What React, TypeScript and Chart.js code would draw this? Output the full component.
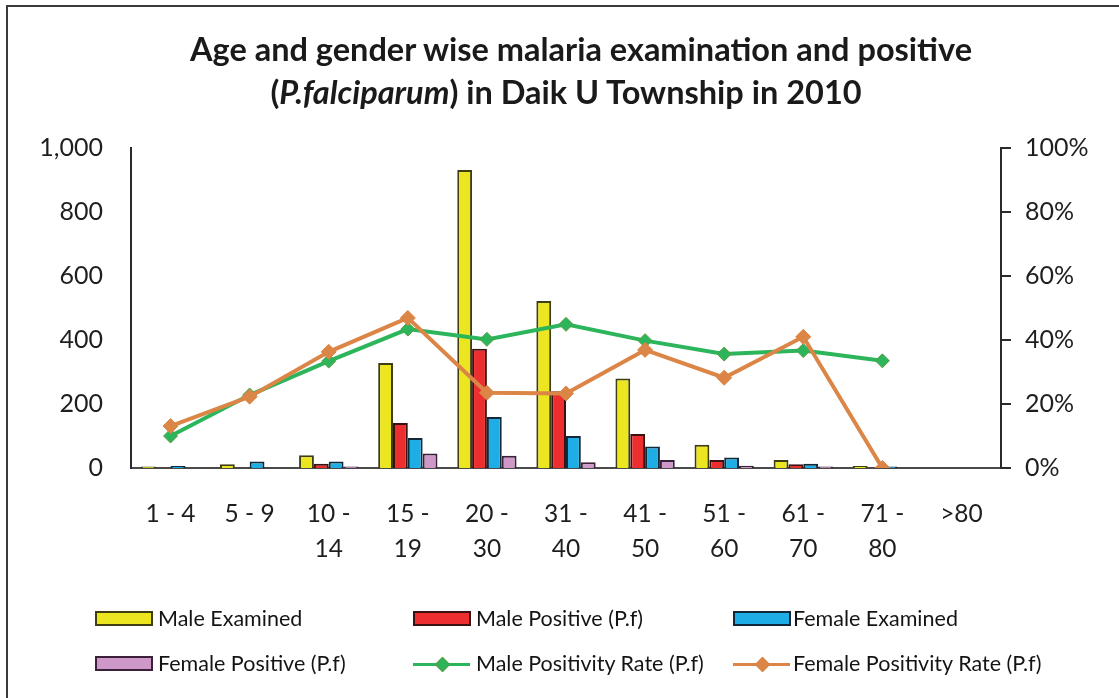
import React, { useEffect, useRef } from "react";
import { Chart, registerables } from "chart.js";

Chart.register(...registerables);

const categories: (string | string[])[] = [
  "1 - 4", "5 - 9", ["10 -", "14"], ["15 -", "19"], ["20 -", "30"], ["31 -", "40"],
  ["41 -", "50"], ["51 -", "60"], ["61 -", "70"], ["71 -", "80"], ">80",
];
const maleExamined = [5, 12, 40, 328, 931, 522, 280, 73, 25, 6, 0];
const malePositive = [1, 1, 13, 141, 373, 240, 106, 25, 12, 1, 0];
const femaleExamined = [6, 20, 20, 94, 159, 100, 67, 33, 13, 5, 0];
const femalePositive = [1, 0, 5, 45, 38, 18, 25, 7, 5, 0, 0];
const maleRate = [10, 22.8, 33.4, 43.4, 40.2, 44.9, 39.8, 35.6, 36.7, 33.5, null];
const femaleRate = [13.1, 22.3, 36.3, 46.9, 23.5, 23.3, 36.9, 28.2, 41, 0, null];
const leftTicks = [0, 200, 400, 600, 800, 1000];
const rightTicks = [0, 20, 40, 60, 80, 100];

const FONT = "Lato, 'Open Sans', sans-serif";
const YELLOW = "#ECE621";
const RED = "#EC2E2E";
const BLUE = "#1EAEE5";
const PINK = "#CE98C8";
const GREEN = "#2DB55C";
const ORANGE = "#DB8547";

export default function App() {
  const ref = useRef<HTMLCanvasElement | null>(null);
  useEffect(() => {
    if (!ref.current) return;
    const bar = (label: string, data: number[], bg: string, bc: string) => ({
      type: "bar" as const,
      label,
      data,
      backgroundColor: bg,
      borderColor: bc,
      borderWidth: 2,
      barPercentage: 1,
      categoryPercentage: 0.75,
      yAxisID: "y",
      order: 2,
    });
    const chart = new Chart(ref.current, {
      type: "bar",
      data: {
        labels: categories,
        datasets: [
          bar("Male Examined", maleExamined, YELLOW, "#3f3d12"),
          bar("Male Positive (P.f)", malePositive, RED, "#3a1212"),
          bar("Female Examined", femaleExamined, BLUE, "#10283a"),
          bar("Female Positive (P.f)", femalePositive, PINK, "#3a2038"),
          {
            type: "line" as const,
            label: "Male Positivity Rate (P.f)",
            data: maleRate,
            borderColor: GREEN,
            borderWidth: 4,
            pointStyle: "rectRot",
            pointRadius: 7,
            pointBackgroundColor: GREEN,
            pointBorderColor: "#5e9a44",
            pointBorderWidth: 1,
            tension: 0,
            yAxisID: "y1",
            order: 1,
          },
          {
            type: "line" as const,
            label: "Female Positivity Rate (P.f)",
            data: femaleRate,
            borderColor: ORANGE,
            borderWidth: 4,
            pointStyle: "rectRot",
            pointRadius: 7.5,
            pointBackgroundColor: ORANGE,
            pointBorderColor: ORANGE,
            pointBorderWidth: 1,
            tension: 0,
            yAxisID: "y1",
            order: 0,
          },
        ] as any,
      },
      options: {
        responsive: false,
        animation: false,
        layout: { padding: { left: 0, right: 0, top: 148, bottom: 100 } },
        plugins: { legend: { display: false }, title: { display: false }, tooltip: { enabled: false } },
        scales: {
          x: {
            grid: { display: false, drawTicks: false },
            border: { display: true, color: "#4a4a4a", width: 2 },
            ticks: {
              color: "#1e1e1e",
              font: { family: FONT, size: 24.5, lineHeight: 1.43 },
              padding: 29,
              maxRotation: 0,
              autoSkip: false,
            },
            afterFit: (s: any) => { s.height = 130; },
          },
          y: {
            position: "left",
            min: 0,
            max: 1000,
            afterBuildTicks: (s: any) => { s.ticks = leftTicks.map((v) => ({ value: v })); },
            grid: { display: false, drawTicks: false },
            border: { display: true, color: "#2a2a2a", width: 2 },
            ticks: {
              color: "#1e1e1e",
              font: { family: FONT, size: 25 },
              padding: 28,
              callback: (v: any) => Number(v).toLocaleString("en-US"),
            },
            afterFit: (s: any) => { s.width = 131; },
          },
          y1: {
            position: "right",
            min: 0,
            max: 100,
            afterBuildTicks: (s: any) => { s.ticks = rightTicks.map((v) => ({ value: v })); },
            grid: { display: true, drawOnChartArea: false, drawTicks: true, tickLength: 10, color: "#2a2a2a", lineWidth: 2 },
            border: { display: true, color: "#2a2a2a", width: 2 },
            ticks: {
              color: "#1e1e1e",
              font: { family: FONT, size: 25 },
              padding: 14,
              callback: (v: any) => v + "%",
            },
            afterFit: (s: any) => { s.width = 118; },
          },
        },
      } as any,
    });
    return () => chart.destroy();
  }, []);

  const textStyle: React.CSSProperties = {
    position: "absolute",
    fontFamily: FONT,
    fontSize: 21.5,
    color: "#141414",
    lineHeight: "26px",
    whiteSpace: "nowrap",
  };
  const box = (left: number, top: number, bg: string, bc: string) => (
    <div style={{ position: "absolute", left, top, width: 54, height: 11, background: bg, border: `2px solid ${bc}` }} />
  );
  const lineMark = (left: number, top: number, color: string, pb: string) => (
    <div style={{ position: "absolute", left, top: top - 8, width: 57, height: 16 }}>
      <div style={{ position: "absolute", left: 0, top: 6.5, width: 57, height: 3, background: color }} />
      <div style={{ position: "absolute", left: 23.5, top: 3, width: 9, height: 9, background: color, border: `1px solid ${pb}`, transform: "rotate(45deg)" }} />
    </div>
  );

  return (
    <div style={{ position: "fixed", left: 0, top: 0, width: 1119, height: 698, background: "#fff", overflow: "hidden" }}>
      <div style={{ position: "absolute", left: 6, top: 5, width: 1200, height: 800, border: "2px solid #3a3a3a" }} />
      <canvas ref={ref} width={1119} height={698} style={{ position: "absolute", left: 0, top: 0 }} />
      <div style={{ position: "absolute", left: 0, width: 1162, top: 28, textAlign: "center", fontFamily: FONT, fontWeight: 700, fontSize: 32.5, lineHeight: "42px", color: "#1a1a1a" }}>
        Age and gender wise malaria examination and positive
      </div>
      <div style={{ position: "absolute", left: 0, width: 1132, top: 71, textAlign: "center", fontFamily: FONT, fontWeight: 700, fontSize: 32.5, lineHeight: "42px", color: "#1a1a1a" }}>
        (<i>P.falciparum</i>) in Daik U Township in 2010
      </div>
      {box(95, 611, YELLOW, "#3f3d12")}
      <div style={{ ...textStyle, left: 158, top: 605 }}>Male Examined</div>
      {box(413, 611, RED, "#3a1212")}
      <div style={{ ...textStyle, left: 476, top: 605 }}>Male Positive (P.f)</div>
      {box(733, 611, BLUE, "#10283a")}
      <div style={{ ...textStyle, left: 793, top: 605 }}>Female Examined</div>
      {box(95, 656, PINK, "#3a2038")}
      <div style={{ ...textStyle, left: 158, top: 650 }}>Female Positive (P.f)</div>
      {lineMark(413, 664, GREEN, "#5e9a44")}
      <div style={{ ...textStyle, left: 476, top: 650 }}>Male Positivity Rate (P.f)</div>
      {lineMark(733, 664, ORANGE, ORANGE)}
      <div style={{ ...textStyle, left: 793, top: 650 }}>Female Positivity Rate (P.f)</div>
    </div>
  );
}
